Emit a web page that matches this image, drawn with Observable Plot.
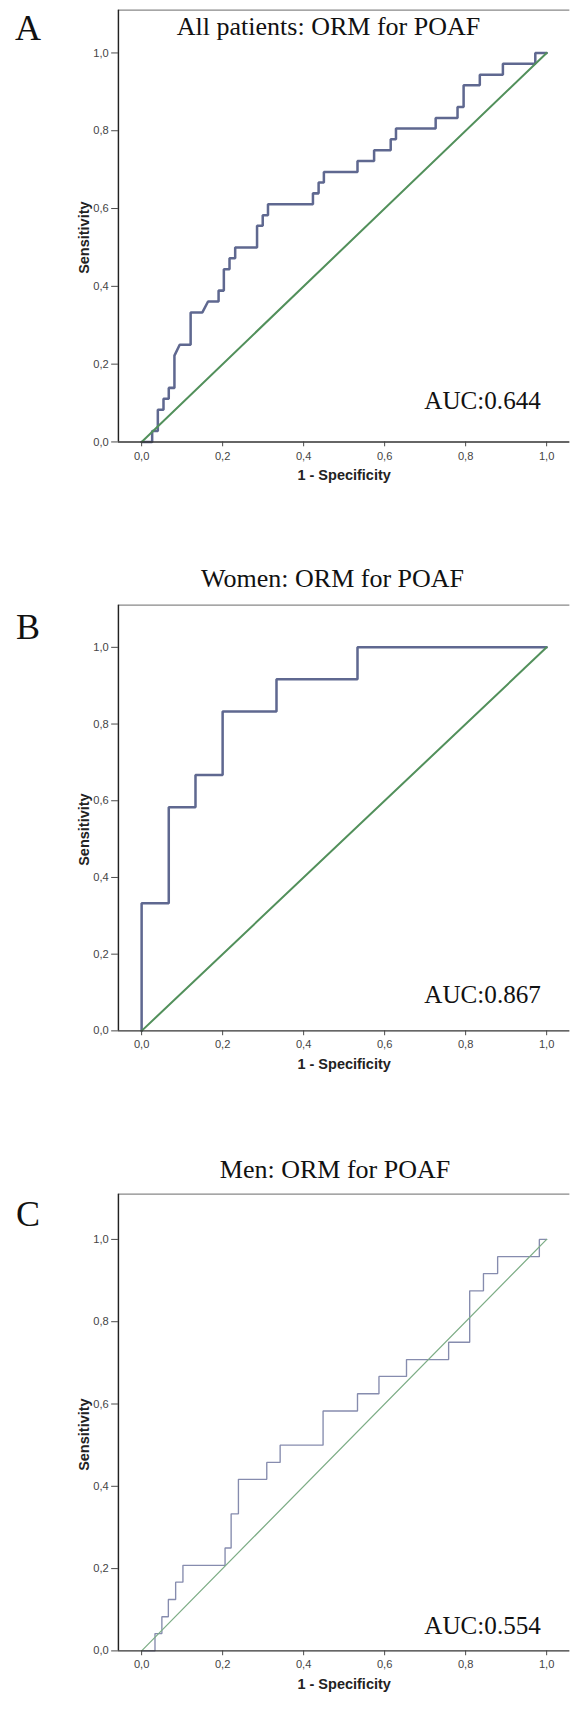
<!DOCTYPE html>
<html>
<head>
<meta charset="utf-8">
<script src="https://cdn.jsdelivr.net/npm/d3@7"></script>
<script src="https://cdn.jsdelivr.net/npm/@observablehq/plot@0.6"></script>
<style>
  html, body { margin: 0; padding: 0; background: #fff; }
  body { width: 580px; height: 1716px; overflow: hidden; position: relative; }
  .panel { position: absolute; left: 0; }
  .letter { position: absolute; font-family: "Liberation Serif", "Times New Roman", serif; font-size: 36px; line-height: 36px; color: #111; transform: translate(-50%, -50%); }
  .title { position: absolute; font-family: "Liberation Serif", "Times New Roman", serif; font-size: 26px; line-height: 26px; color: #111; white-space: nowrap; transform: translate(-50%, -50%); }
</style>
</head>
<body>
<div id="root"></div>
<script>
// ---------- data ----------
const ticks = [0, 0.2, 0.4, 0.6, 0.8, 1.0];
const tickLabels = ["0,0", "0,2", "0,4", "0,6", "0,8", "1,0"];
const diagonal = [0, 1];

const letters = ["A", "B", "C"];
const titles = ["All patients: ORM for POAF", "Women: ORM for POAF", "Men: ORM for POAF"];
const aucLabels = ["AUC:0.644", "AUC:0.867", "AUC:0.554"];
const xLabel = "1 - Specificity";
const yLabel = "Sensitivity";

// All patients
const allFpr = [0, 0.026, 0.026, 0.040, 0.040, 0.054, 0.054, 0.067, 0.067, 0.081, 0.081, 0.094, 0.121, 0.121, 0.150, 0.164, 0.190, 0.190, 0.203, 0.203, 0.217, 0.217, 0.231, 0.231, 0.285, 0.285, 0.299, 0.299, 0.312, 0.312, 0.423, 0.423, 0.437, 0.437, 0.450, 0.450, 0.533, 0.533, 0.574, 0.574, 0.615, 0.615, 0.628, 0.628, 0.726, 0.726, 0.780, 0.780, 0.795, 0.795, 0.835, 0.835, 0.892, 0.892, 0.972, 0.972, 1];
const allTpr = [0, 0, 0.028, 0.028, 0.083, 0.083, 0.111, 0.111, 0.139, 0.139, 0.222, 0.25, 0.25, 0.333, 0.333, 0.361, 0.361, 0.389, 0.389, 0.444, 0.444, 0.472, 0.472, 0.5, 0.5, 0.556, 0.556, 0.583, 0.583, 0.611, 0.611, 0.639, 0.639, 0.667, 0.667, 0.694, 0.694, 0.722, 0.722, 0.75, 0.75, 0.778, 0.778, 0.806, 0.806, 0.833, 0.833, 0.861, 0.861, 0.917, 0.917, 0.944, 0.944, 0.972, 0.972, 1, 1];

// Women
const womenFpr = [0, 0, 0.067, 0.067, 0.133, 0.133, 0.2, 0.2, 0.333, 0.333, 0.533, 0.533, 1];
const womenTpr = [0, 0.333, 0.333, 0.583, 0.583, 0.667, 0.667, 0.833, 0.833, 0.917, 0.917, 1, 1];

// Men
const menFpr = [0, 0.033, 0.033, 0.050, 0.050, 0.066, 0.066, 0.084, 0.084, 0.102, 0.102, 0.206, 0.206, 0.221, 0.221, 0.239, 0.239, 0.309, 0.309, 0.342, 0.342, 0.448, 0.448, 0.533, 0.533, 0.586, 0.586, 0.654, 0.654, 0.758, 0.758, 0.810, 0.810, 0.844, 0.844, 0.879, 0.879, 0.982, 0.982, 1];
const menTpr = [0, 0, 0.042, 0.042, 0.083, 0.083, 0.125, 0.125, 0.167, 0.167, 0.208, 0.208, 0.25, 0.25, 0.333, 0.333, 0.417, 0.417, 0.458, 0.458, 0.5, 0.5, 0.583, 0.583, 0.625, 0.625, 0.667, 0.667, 0.708, 0.708, 0.75, 0.75, 0.875, 0.875, 0.917, 0.917, 0.958, 0.958, 1, 1];

// ---------- layout / style ----------
const X_PAD = 0.0573;
const Y_MAX = 1.11;
const panels = [
  {fpr: allFpr, tpr: allTpr, frameTop: 10, plotH: 446.7, thin: false, aucDy: -42.7, labelDy: 12,
   title: {x: 328.5, y: 26.7}, letter: {x: 28, y: 28}},
  {fpr: womenFpr, tpr: womenTpr, frameTop: 605, plotH: 440.4, thin: false, aucDy: -36.8, labelDy: 12,
   title: {x: 332.6, y: 579}, letter: {x: 28, y: 627}},
  {fpr: menFpr, tpr: menTpr, frameTop: 1193.5, plotH: 472.5, thin: true, aucDy: -25.6, labelDy: 12.5,
   title: {x: 335, y: 1170}, letter: {x: 28, y: 1214}}
];

const root = document.getElementById("root");
const fmt = d => tickLabels[ticks.findIndex(t => Math.abs(t - d) < 1e-9)];

panels.forEach((p, i) => {
  const pts = p.fpr.map((x, j) => ({x, y: p.tpr[j]}));
  const blue = p.thin ? "#868cae" : "#5f6890";
  const green = p.thin ? "#7dad86" : "#52905b";
  const swBlue = p.thin ? 1.4 : 2.6;
  const swGreen = p.thin ? 1.3 : 2.1;
  const mt = 10, mb = 50;
  const chart = Plot.plot({
    width: 600,
    height: mt + p.plotH + mb,
    marginLeft: 122,
    marginRight: 11,
    marginTop: mt,
    marginBottom: mb,
    x: {domain: [-X_PAD, 1 + X_PAD]},
    y: {domain: [0, Y_MAX]},
    style: {fontFamily: "'Liberation Sans', Arial, sans-serif", color: "#333", background: "#fff", overflow: "visible"},
    marks: [
      Plot.line(pts, {x: "x", y: "y", stroke: blue, strokeWidth: swBlue, strokeLinejoin: "miter", curve: "linear"}),
      Plot.line(diagonal, {x: d => d, y: d => d, stroke: green, strokeWidth: swGreen}),
      Plot.ruleY([Y_MAX], {stroke: "#888", strokeWidth: 1.5}),
      Plot.ruleX([-X_PAD], {stroke: "#222", strokeWidth: 1.5}),
      Plot.ruleY([0], {stroke: "#333", strokeWidth: 1.5}),
      Plot.axisX(ticks, {tickSize: 5, tickPadding: 5, tickFormat: fmt, label: null, fontSize: 11.5, stroke: "#444", fill: "#444"}),
      Plot.axisY(ticks, {tickSize: 7, tickPadding: 3, tickFormat: fmt, label: null, fontSize: 11.5, stroke: "#444", fill: "#444"}),
      Plot.text([xLabel], {frameAnchor: "bottom", dy: 35, lineAnchor: "middle", fontSize: 15, fontWeight: "bold", fill: "#222"}),
      Plot.text([yLabel], {frameAnchor: "left", dx: -35, dy: p.labelDy, rotate: -90, textAnchor: "middle", lineAnchor: "middle", fontSize: 15, fontWeight: "bold", fill: "#222"}),
      Plot.text([aucLabels[i]], {frameAnchor: "bottom-right", dx: -30, dy: p.aucDy, textAnchor: "end", lineAnchor: "middle", fontSize: 26, fontFamily: "'Liberation Serif', 'Times New Roman', serif", fill: "#111"})
    ]
  });
  const wrap = document.createElement("div");
  wrap.className = "panel";
  wrap.style.top = (p.frameTop - mt) + "px";
  wrap.appendChild(chart);
  root.appendChild(wrap);

  const t = document.createElement("div");
  t.className = "title";
  t.textContent = titles[i];
  t.style.left = p.title.x + "px";
  t.style.top = p.title.y + "px";
  root.appendChild(t);

  const l = document.createElement("div");
  l.className = "letter";
  l.textContent = letters[i];
  l.style.left = p.letter.x + "px";
  l.style.top = p.letter.y + "px";
  root.appendChild(l);
});
</script>
</body>
</html>
